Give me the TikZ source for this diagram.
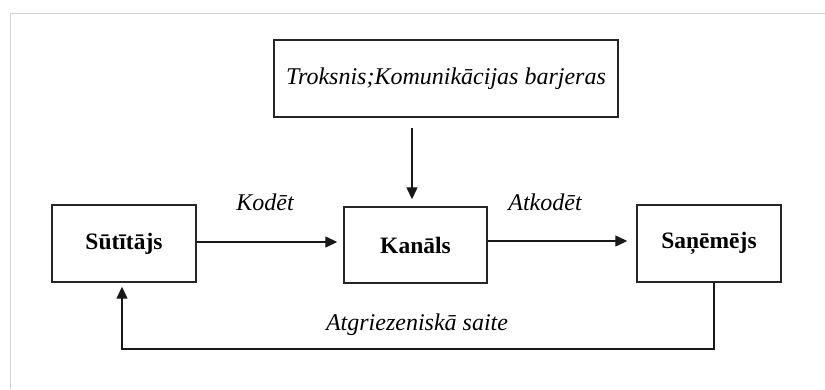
\documentclass[tikz,border=0pt]{standalone}
\usepackage{fontspec}
\setmainfont{Liberation Serif}
\usetikzlibrary{arrows.meta}
\begin{document}
\begin{tikzpicture}[x=1pt,y=-1pt,
  box/.style={draw=black!85,line width=1.4pt,minimum width=144pt,minimum height=77pt,inner sep=0pt,font=\fontsize{23.5}{27}\selectfont\bfseries},
  nbox/.style={draw=black!85,line width=1.4pt,minimum width=344pt,minimum height=77pt,inner sep=0pt,font=\fontsize{24}{27}\selectfont\itshape},
  lbl/.style={font=\fontsize{24}{27}\selectfont\itshape,inner sep=0pt},
  arr/.style={draw=black!90,line width=1.3pt,-{Triangle[length=12pt,width=11pt]}},
  frame/.style={draw=black!18,line width=1pt}]
\useasboundingbox (0,0) rectangle (825,389);
\coordinate (f1) at (10,389);
\coordinate (f2) at (10,13);
\coordinate (f3) at (825,13);
\draw[frame] (f1) -- (f2) -- (f3);
\node[nbox] (noise) at (446,78.5) {Troksnis;Komunikācijas barjeras};
\node[box] (sut) at (124,243.5) {Sūtītājs};
\node[box,minimum width=143pt,minimum height=76pt] (kan) at (415.5,245) {Kanāls};
\node[box] (san) at (709,243.5) {Saņēmējs};
\coordinate (ax) at (412,0);
\draw[arr,shorten <=10pt,shorten >=7pt] (noise.south -| ax) -- (kan.north -| ax);
\draw[arr,shorten >=6pt] (sut.east |- 0,242) -- (kan.west |- 0,242);
\draw[arr,shorten >=9pt] (kan.east |- 0,241) -- (san.west |- 0,241);
\coordinate (fa) at (714,349);
\coordinate (fb) at (122,349);
\draw[arr,shorten >=4pt] (san.south -| fa) -- (fa) -- (fb) -- (sut.south -| fb);
\node[lbl] (kod) at (265,202) {Kodēt};
\node[lbl] (atk) at (545,202) {Atkodēt};
\node[lbl] (atg) at (417,325) {Atgriezeniskā saite};
\end{tikzpicture}
\end{document}
